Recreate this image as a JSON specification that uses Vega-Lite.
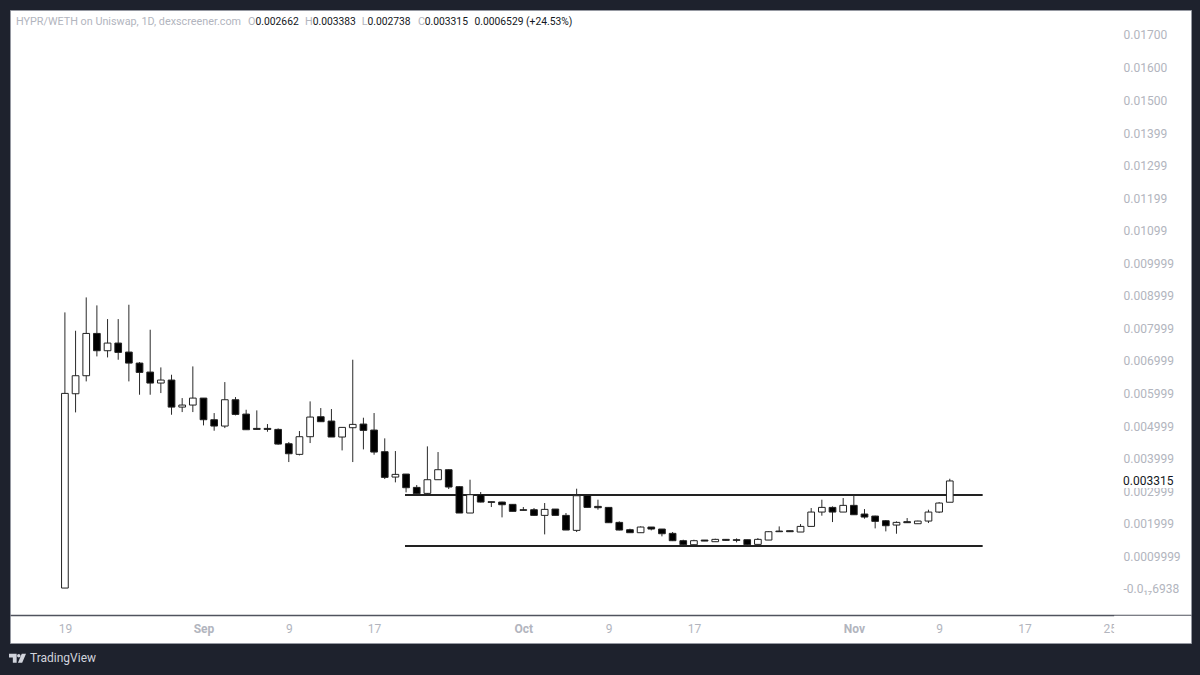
{
  "$schema": "https://vega.github.io/schema/vega-lite/v6.json",
  "width": 1181,
  "height": 633,
  "autosize": "none",
  "padding": {"left": 10, "top": 10, "right": 9, "bottom": 32},
  "background": "#1e222d",
  "config": {
    "view": {"fill": "#ffffff", "stroke": "#9598a1"},
    "font": "Roboto",
    "axis": {"labelOverlap": false}
  },
  "datasets": {
    "candles": [
      {"date":"2023-08-19","open":0.000029,"high":0.008487,"low":0.000029,"close":0.006002},
      {"date":"2023-08-20","open":0.005991,"high":0.007924,"low":0.005419,"close":0.006544},
      {"date":"2023-08-21","open":0.006544,"high":0.008947,"low":0.006370,"close":0.007842},
      {"date":"2023-08-22","open":0.007842,"high":0.008702,"low":0.007137,"close":0.007311},
      {"date":"2023-08-23","open":0.007311,"high":0.008282,"low":0.007106,"close":0.007546},
      {"date":"2023-08-24","open":0.007546,"high":0.008282,"low":0.007035,"close":0.007260},
      {"date":"2023-08-25","open":0.007270,"high":0.008722,"low":0.006370,"close":0.006932},
      {"date":"2023-08-26","open":0.006932,"high":0.006963,"low":0.005961,"close":0.006646},
      {"date":"2023-08-27","open":0.006656,"high":0.007955,"low":0.005961,"close":0.006319},
      {"date":"2023-08-28","open":0.006319,"high":0.006799,"low":0.006012,"close":0.006411},
      {"date":"2023-08-29","open":0.006411,"high":0.006574,"low":0.005347,"close":0.005582},
      {"date":"2023-08-30","open":0.005582,"high":0.005858,"low":0.005429,"close":0.005644},
      {"date":"2023-08-31","open":0.005644,"high":0.006830,"low":0.005429,"close":0.005858},
      {"date":"2023-09-01","open":0.005858,"high":0.005858,"low":0.005020,"close":0.005194},
      {"date":"2023-09-02","open":0.005194,"high":0.005398,"low":0.004856,"close":0.005000},
      {"date":"2023-09-03","open":0.005000,"high":0.006349,"low":0.004938,"close":0.005807},
      {"date":"2023-09-04","open":0.005807,"high":0.005889,"low":0.005327,"close":0.005357},
      {"date":"2023-09-05","open":0.005367,"high":0.005500,"low":0.004887,"close":0.004887},
      {"date":"2023-09-06","open":0.004928,"high":0.005480,"low":0.004887,"close":0.004897},
      {"date":"2023-09-07","open":0.004928,"high":0.005061,"low":0.004825,"close":0.004897},
      {"date":"2023-09-08","open":0.004897,"high":0.004928,"low":0.004427,"close":0.004447},
      {"date":"2023-09-09","open":0.004457,"high":0.004508,"low":0.003895,"close":0.004150},
      {"date":"2023-09-10","open":0.004131,"high":0.004847,"low":0.004100,"close":0.004673},
      {"date":"2023-09-11","open":0.004673,"high":0.005757,"low":0.004478,"close":0.005276},
      {"date":"2023-09-12","open":0.005286,"high":0.005552,"low":0.005133,"close":0.005133},
      {"date":"2023-09-13","open":0.005153,"high":0.005522,"low":0.004663,"close":0.004663},
      {"date":"2023-09-14","open":0.004663,"high":0.004969,"low":0.004253,"close":0.004959},
      {"date":"2023-09-15","open":0.004949,"high":0.007035,"low":0.003895,"close":0.005051},
      {"date":"2023-09-16","open":0.005061,"high":0.005256,"low":0.004284,"close":0.004867},
      {"date":"2023-09-17","open":0.004877,"high":0.005399,"low":0.004120,"close":0.004202},
      {"date":"2023-09-18","open":0.004213,"high":0.004622,"low":0.003374,"close":0.003425},
      {"date":"2023-09-19","open":0.003435,"high":0.004233,"low":0.003272,"close":0.003517},
      {"date":"2023-09-20","open":0.003527,"high":0.003527,"low":0.002965,"close":0.003108},
      {"date":"2023-09-21","open":0.003118,"high":0.003190,"low":0.002924,"close":0.002924},
      {"date":"2023-09-22","open":0.002934,"high":0.004376,"low":0.002903,"close":0.003353},
      {"date":"2023-09-23","open":0.003353,"high":0.004202,"low":0.003353,"close":0.003660},
      {"date":"2023-09-24","open":0.003660,"high":0.003670,"low":0.003067,"close":0.003129},
      {"date":"2023-09-25","open":0.003139,"high":0.003149,"low":0.002331,"close":0.002331},
      {"date":"2023-09-26","open":0.002331,"high":0.003353,"low":0.002331,"close":0.002893},
      {"date":"2023-09-27","open":0.002893,"high":0.002975,"low":0.002658,"close":0.002668},
      {"date":"2023-09-28","open":0.002678,"high":0.002678,"low":0.002515,"close":0.002658},
      {"date":"2023-09-29","open":0.002668,"high":0.002678,"low":0.002198,"close":0.002586},
      {"date":"2023-09-30","open":0.002597,"high":0.002597,"low":0.002382,"close":0.002382},
      {"date":"2023-10-01","open":0.002433,"high":0.002515,"low":0.002413,"close":0.002413},
      {"date":"2023-10-02","open":0.002433,"high":0.002484,"low":0.002249,"close":0.002259},
      {"date":"2023-10-03","open":0.002259,"high":0.002638,"low":0.001676,"close":0.002443},
      {"date":"2023-10-04","open":0.002453,"high":0.002453,"low":0.002259,"close":0.002259},
      {"date":"2023-10-05","open":0.002259,"high":0.002331,"low":0.001809,"close":0.001809},
      {"date":"2023-10-06","open":0.001799,"high":0.003077,"low":0.001748,"close":0.002862},
      {"date":"2023-10-07","open":0.002873,"high":0.002873,"low":0.002504,"close":0.002504},
      {"date":"2023-10-08","open":0.002535,"high":0.002740,"low":0.002433,"close":0.002494},
      {"date":"2023-10-09","open":0.002504,"high":0.002514,"low":0.002034,"close":0.002034},
      {"date":"2023-10-10","open":0.002044,"high":0.002075,"low":0.001799,"close":0.001809},
      {"date":"2023-10-11","open":0.001819,"high":0.001850,"low":0.001727,"close":0.001727},
      {"date":"2023-10-12","open":0.001727,"high":0.001921,"low":0.001727,"close":0.001901},
      {"date":"2023-10-13","open":0.001901,"high":0.001901,"low":0.001799,"close":0.001840},
      {"date":"2023-10-14","open":0.001840,"high":0.001840,"low":0.001615,"close":0.001696},
      {"date":"2023-10-15","open":0.001707,"high":0.001748,"low":0.001471,"close":0.001482},
      {"date":"2023-10-16","open":0.001482,"high":0.001512,"low":0.001349,"close":0.001359},
      {"date":"2023-10-17","open":0.001359,"high":0.001512,"low":0.001318,"close":0.001482},
      {"date":"2023-10-18","open":0.001502,"high":0.001502,"low":0.001471,"close":0.001471},
      {"date":"2023-10-19","open":0.001451,"high":0.001543,"low":0.001451,"close":0.001523},
      {"date":"2023-10-20","open":0.001523,"high":0.001533,"low":0.001482,"close":0.001492},
      {"date":"2023-10-21","open":0.001512,"high":0.001553,"low":0.001431,"close":0.001492},
      {"date":"2023-10-22","open":0.001512,"high":0.001512,"low":0.001349,"close":0.001359},
      {"date":"2023-10-23","open":0.001369,"high":0.001563,"low":0.001359,"close":0.001523},
      {"date":"2023-10-24","open":0.001502,"high":0.001768,"low":0.001502,"close":0.001758},
      {"date":"2023-10-25","open":0.001778,"high":0.001921,"low":0.001758,"close":0.001758},
      {"date":"2023-10-26","open":0.001788,"high":0.001788,"low":0.001758,"close":0.001758},
      {"date":"2023-10-27","open":0.001748,"high":0.001993,"low":0.001748,"close":0.001921},
      {"date":"2023-10-28","open":0.001921,"high":0.002484,"low":0.001921,"close":0.002361},
      {"date":"2023-10-29","open":0.002361,"high":0.002740,"low":0.002249,"close":0.002504},
      {"date":"2023-10-30","open":0.002504,"high":0.002535,"low":0.002054,"close":0.002361},
      {"date":"2023-10-31","open":0.002361,"high":0.002791,"low":0.002361,"close":0.002566},
      {"date":"2023-11-01","open":0.002566,"high":0.002893,"low":0.002279,"close":0.002279},
      {"date":"2023-11-02","open":0.002300,"high":0.002453,"low":0.002157,"close":0.002208},
      {"date":"2023-11-03","open":0.002238,"high":0.002249,"low":0.001860,"close":0.002075},
      {"date":"2023-11-04","open":0.002095,"high":0.002116,"low":0.001768,"close":0.001942},
      {"date":"2023-11-05","open":0.001962,"high":0.002075,"low":0.001696,"close":0.002044},
      {"date":"2023-11-06","open":0.002065,"high":0.002177,"low":0.002034,"close":0.002034},
      {"date":"2023-11-07","open":0.002003,"high":0.002095,"low":0.002003,"close":0.002085},
      {"date":"2023-11-08","open":0.002085,"high":0.002433,"low":0.002024,"close":0.002361},
      {"date":"2023-11-09","open":0.002361,"high":0.002668,"low":0.002330,"close":0.002637},
      {"date":"2023-11-10","open":0.002662,"high":0.003383,"low":0.002738,"close":0.003315}
    ],
    "levels": [
      {"start":"2023-09-19T21:36:00Z","end":"2023-11-13T02:00:00Z","price":0.002884},
      {"start":"2023-09-19T21:36:00Z","end":"2023-11-13T02:00:00Z","price":0.001319}
    ],
    "covers": [
      {"start":"2023-11-25T10:00:00Z","end":"2023-12-02T15:00:00Z","top":-0.00082,"bottom":-0.00165},
      {"start":"2023-11-25T10:00:00Z","end":"2023-12-02T15:00:00Z","top":0.00353,"bottom":0.0031}
    ],
    "header": [
      {"date":"2023-08-14T09:54:00Z","price":0.017405,"kind":"label","text":"HYPR/WETH on Uniswap, 1D, dexscreener.com"},
      {"date":"2023-09-05T04:00:00Z","price":0.017405,"kind":"label","text":"O"},
      {"date":"2023-09-05T21:00:00Z","price":0.017405,"kind":"value","text":"0.002662"},
      {"date":"2023-09-10T12:30:00Z","price":0.017405,"kind":"label","text":"H"},
      {"date":"2023-09-11T05:40:00Z","price":0.017405,"kind":"value","text":"0.003383"},
      {"date":"2023-09-15T20:00:00Z","price":0.017405,"kind":"label","text":"L"},
      {"date":"2023-09-16T09:00:00Z","price":0.017405,"kind":"value","text":"0.002738"},
      {"date":"2023-09-21T03:00:00Z","price":0.017405,"kind":"label","text":"C"},
      {"date":"2023-09-21T18:00:00Z","price":0.017405,"kind":"value","text":"0.003315"},
      {"date":"2023-09-26T10:00:00Z","price":0.017405,"kind":"value","text":"0.0006529 (+24.53%)"}
    ]
  },
  "layer": [
    {
      "data": {"name": "levels"},
      "mark": {"type": "rule", "color": "#222222", "strokeWidth": 2},
      "encoding": {
        "x": {
          "field": "start",
          "type": "temporal",
          "title": null,
          "scale": {"type": "utc", "nice": false, "padding": 0, "domain": ["2023-08-13T20:24:00Z", "2023-12-02T15:00:00Z"]},
          "axis": {
            "orient": "bottom",
            "offset": -28,
            "grid": false,
            "ticks": false,
            "domainColor": "#50535e",
            "domainWidth": 1.5,
            "labelColor": "#b2b5be",
            "labelFont": "Roboto",
            "labelFontSize": 12,
            "labelPadding": 8,
            "labelFlush": false,
            "labelOverlap": false,
            "labelBound": false,
            "labelFontWeight": {"condition": {"test": "utcdate(datum.value) == 1", "value": 700}, "value": 400},
            "values": ["2023-08-19", "2023-09-01", "2023-09-09", "2023-09-17", "2023-10-01", "2023-10-09", "2023-10-17", "2023-11-01", "2023-11-09", "2023-11-17", "2023-11-25"],
            "labelExpr": "utcdate(datum.value) == 1 ? utcFormat(datum.value, '%b') : utcFormat(datum.value, '%-d')"
          }
        },
        "x2": {"field": "end"},
        "y": {
          "field": "price",
          "type": "quantitative",
          "title": null,
          "scale": {"domain": [-0.001657, 0.017766], "nice": false, "zero": false},
          "axis": {
            "orient": "right",
            "offset": -77,
            "grid": false,
            "ticks": false,
            "domain": false,
            "labelColor": "#b2b5be",
            "labelFont": "Roboto",
            "labelFontSize": 12,
            "labelPadding": 9,
            "labelAlign": "left",
            "labelFlush": false,
            "labelOverlap": false,
            "labelBound": false,
            "tickCount": 30,
            "values": [0.017, 0.016, 0.015, 0.01399, 0.01299, 0.01199, 0.01099, 0.009999, 0.008999, 0.007999, 0.006999, 0.005999, 0.004999, 0.003999, 0.002999, 0.001999, 0.0009999, -1.76938e-18],
            "labelExpr": "datum.value < 0 ? '-0.0₁₇6938' : datum.value >= 0.01 ? format(datum.value, '.5f') : datum.value >= 0.001 ? format(datum.value, '.6f') : format(datum.value, '.7f')"
          }
        }
      }
    },
    {
      "data": {"name": "candles"},
      "mark": {"type": "rule", "color": "#2a2a2a", "strokeWidth": 1},
      "encoding": {
        "x": {"field": "date", "type": "temporal"},
        "y": {"field": "high", "type": "quantitative"},
        "y2": {"field": "low"}
      }
    },
    {
      "data": {"name": "candles"},
      "mark": {"type": "bar", "size": 6.7, "stroke": "#222222", "strokeWidth": 1},
      "encoding": {
        "x": {"field": "date", "type": "temporal"},
        "y": {"field": "open", "type": "quantitative"},
        "y2": {"field": "close"},
        "fill": {
          "condition": {"test": "datum.close >= datum.open", "value": "#ffffff"},
          "value": "#000000"
        }
      }
    },
    {
      "data": {"name": "covers"},
      "mark": {"type": "rect", "fill": "#ffffff"},
      "encoding": {
        "x": {"field": "start", "type": "temporal"},
        "x2": {"field": "end"},
        "y": {"field": "top", "type": "quantitative"},
        "y2": {"field": "bottom"}
      }
    },
    {
      "data": {"values": [{"date": "2023-11-26T06:00:00Z", "price": 0.003315, "text": "0.003315"}]},
      "mark": {"type": "text", "align": "left", "baseline": "middle", "font": "Roboto", "fontSize": 12, "color": "#131722"},
      "encoding": {
        "x": {"field": "date", "type": "temporal"},
        "y": {"field": "price", "type": "quantitative"},
        "text": {"field": "text"}
      }
    },
    {
      "data": {"name": "header"},
      "mark": {"type": "text", "align": "left", "baseline": "middle", "font": "Roboto"},
      "encoding": {
        "x": {"field": "date", "type": "temporal"},
        "y": {"field": "price", "type": "quantitative"},
        "text": {"field": "text"},
        "color": {
          "field": "kind",
          "type": "nominal",
          "legend": null,
          "scale": {"domain": ["label", "value"], "range": ["#b2b5be", "#131722"]}
        },
        "size": {
          "field": "kind",
          "type": "nominal",
          "legend": null,
          "scale": {"domain": ["label", "value"], "range": [10.8, 10.3]}
        }
      }
    },
    {
      "data": {"values": [{"date": "2023-08-14T13:18:00Z", "price": -0.002126}]},
      "mark": {
        "type": "point",
        "filled": true,
        "opacity": 1,
        "color": "#d1d4dc",
        "size": 289,
        "shape": "M-1 -0.53H-0.1V0.53H-0.55V-0.1H-1ZM-0.05 -0.3a0.2 0.2 0 1 1 0.4 0a0.2 0.2 0 1 1 -0.4 0ZM0.05 0.53L0.5 -0.53H1L0.55 0.53Z"
      },
      "encoding": {
        "x": {"field": "date", "type": "temporal"},
        "y": {"field": "price", "type": "quantitative"}
      }
    },
    {
      "data": {"values": [{"date": "2023-08-15T17:21:00Z", "price": -0.002126, "text": "TradingView"}]},
      "mark": {"type": "text", "align": "left", "baseline": "middle", "font": "Roboto", "fontSize": 12, "color": "#d1d4dc"},
      "encoding": {
        "x": {"field": "date", "type": "temporal"},
        "y": {"field": "price", "type": "quantitative"},
        "text": {"field": "text"}
      }
    }
  ]
}
